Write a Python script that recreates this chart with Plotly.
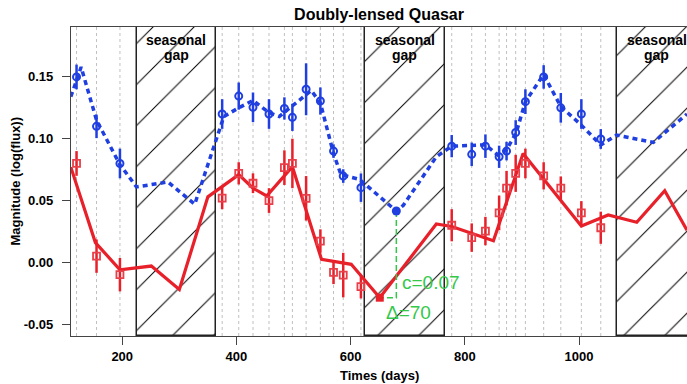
import plotly.graph_objects as go

# ---------------- data ----------------
obs_days = [120, 155, 196, 375, 404, 429, 457, 484, 498, 522, 547, 570, 587, 618,
            777, 812, 836, 860, 873, 889, 906, 938, 968, 1004, 1038]
blue_mag = [0.150, 0.110, 0.080, 0.120, 0.1345, 0.1254, 0.120, 0.1245, 0.1173, 0.140,
            0.1305, 0.090, 0.0698, 0.0604, 0.094, 0.0874, 0.094, 0.0854, 0.090, 0.105,
            0.130, 0.150, 0.125, 0.120, 0.0998]
blue_err = [0.010, 0.0095, 0.012, 0.012, 0.011, 0.012, 0.012, 0.009, 0.011, 0.021,
            0.011, 0.0055, 0.0055, 0.0115, 0.009, 0.0095, 0.0095, 0.009, 0.0075, 0.010,
            0.010, 0.0095, 0.012, 0.012, 0.008]
red_mag = [0.080, 0.005, -0.010, 0.052, 0.072, 0.064, 0.050, 0.0766, 0.080, 0.0518,
           0.0172, -0.0081, -0.0103, -0.0197, 0.030, 0.020, 0.0253, 0.040, 0.060, 0.072,
           0.080, 0.070, 0.060, 0.040, 0.028]
red_err = [0.010, 0.0135, 0.0135, 0.009, 0.009, 0.008, 0.010, 0.014, 0.020, 0.018,
           0.0095, 0.0095, 0.018, 0.0095, 0.013, 0.0115, 0.0115, 0.014, 0.014, 0.015,
           0.012, 0.011, 0.0095, 0.0095, 0.013]

blue_curve_days = [110, 128, 155, 196, 225, 280, 327, 378, 404, 429, 457, 475, 531, 547,
                   570, 583, 616, 680, 692, 750, 777, 836, 858, 873, 890, 906, 938, 968,
                   1004, 1038, 1066, 1100, 1130, 1189]
blue_curve_mag = [0.134, 0.158, 0.115, 0.079, 0.061, 0.065, 0.047, 0.118, 0.125, 0.131,
                  0.121, 0.118, 0.139, 0.129, 0.088, 0.071, 0.067, 0.0415, 0.046, 0.0854,
                  0.094, 0.095, 0.0868, 0.091, 0.105, 0.130, 0.152, 0.126, 0.111, 0.095,
                  0.103, 0.100, 0.097, 0.120]
red_curve_days = [110, 153, 196, 251, 300, 350, 404, 429, 453, 498, 549, 601, 651, 750,
                  777, 850, 902, 1004, 1051, 1101, 1150, 1189]
red_curve_mag = [0.077, 0.016, -0.006, -0.003, -0.022, 0.053, 0.071, 0.060, 0.0537,
                 0.0774, 0.0024, -0.0016, -0.0286, 0.031, 0.029, 0.0175, 0.088, 0.0294,
                 0.0383, 0.0324, 0.058, 0.026]

gap_start = [225, 625, 1066]
gap_end = [365, 765, 1206]

shift_blue_pt = [680, 0.0415]
shift_red_pt = [651, -0.0286]
c_label = "c=0.07"
delta_label = "Δ=70"

x_ticks = [200, 400, 600, 800, 1000]
y_ticks = [-0.05, 0.0, 0.05, 0.10, 0.15]
y_ticktext = ["-0.05", "0.00", "0.05", "0.10", "0.15"]

title = "Doubly-lensed Quasar"
x_title = "Times (days)"
y_title = "Magnitude (log(flux))"
gap_word1 = "seasonal"
gap_word2 = "gap"

# ---------------- styling ----------------
XR = [110.3, 1189.0]
YR = [-0.0596, 0.1904]
BLUE = "#1f3fe0"
RED = "#e8202a"
GREEN = "#33c84a"
FONT = "Liberation Sans"

fig = go.Figure()

# seasonal gaps (hatched)
centers = [(a + b) / 2 for a, b in zip(gap_start, gap_end)]
widths = [b - a for a, b in zip(gap_start, gap_end)]
fig.add_trace(go.Bar(
    x=centers, y=[YR[1] - YR[0]] * len(centers), base=YR[0], width=widths,
    marker=dict(color="white", line=dict(color="#222222", width=1.5),
                pattern=dict(shape="/", fgcolor="#000000", bgcolor="white",
                             fgopacity=1, size=29, solidity=0.035)),
    hoverinfo="skip", showlegend=False))

# observation dashed lines
for d in obs_days:
    fig.add_shape(type="line", x0=d, x1=d, y0=0, y1=1, xref="x", yref="paper",
                  line=dict(color="#c0c0c0", width=1, dash="3px,3px"), layer="below")

# model curves
fig.add_trace(go.Scatter(x=blue_curve_days, y=blue_curve_mag, mode="lines",
                         line=dict(color=BLUE, width=3.5, dash="5px,4px"),
                         showlegend=False, hoverinfo="skip"))
fig.add_trace(go.Scatter(x=red_curve_days, y=red_curve_mag, mode="lines",
                         line=dict(color=RED, width=3.2),
                         showlegend=False, hoverinfo="skip"))

# observations
fig.add_trace(go.Scatter(x=obs_days, y=blue_mag, mode="markers",
                         marker=dict(symbol="circle-open", size=7, color=BLUE,
                                     line=dict(width=2, color=BLUE)),
                         error_y=dict(type="data", array=blue_err, width=0,
                                      thickness=2.5, color=BLUE),
                         showlegend=False))
fig.add_trace(go.Scatter(x=obs_days, y=red_mag, mode="markers",
                         marker=dict(symbol="square-open", size=7, color="#e8404a",
                                     line=dict(width=1.8, color="#e8404a")),
                         error_y=dict(type="data", array=red_err, width=0,
                                      thickness=2.5, color=RED),
                         showlegend=False))

# shift annotation
fig.add_trace(go.Scatter(x=[shift_blue_pt[0], shift_blue_pt[0], shift_red_pt[0]],
                         y=[shift_blue_pt[1], shift_red_pt[1], shift_red_pt[1]],
                         mode="lines", line=dict(color=GREEN, width=1.5, dash="6px,3px"),
                         showlegend=False, hoverinfo="skip"))
fig.add_trace(go.Scatter(x=[shift_blue_pt[0]], y=[shift_blue_pt[1]], mode="markers",
                         marker=dict(symbol="circle", size=9, color=BLUE),
                         showlegend=False))
fig.add_trace(go.Scatter(x=[shift_red_pt[0]], y=[shift_red_pt[1]], mode="markers",
                         marker=dict(symbol="square", size=8, color=RED),
                         showlegend=False))

fig.add_annotation(x=686, y=-0.016, xref="x", yref="y", text=c_label, showarrow=False,
                   xanchor="left", yanchor="middle",
                   font=dict(family=FONT, size=19, color=GREEN))
fig.add_annotation(x=659, y=-0.0402, xref="x", yref="y", text=delta_label, showarrow=False,
                   xanchor="left", yanchor="middle",
                   font=dict(family=FONT, size=19, color=GREEN))

# gap labels
for c in centers:
    fig.add_annotation(x=c, y=0.958, xref="x", yref="paper", text=gap_word1,
                       showarrow=False, xanchor="center", yanchor="middle",
                       font=dict(family=FONT, size=14, color="black", weight="bold"))
    fig.add_annotation(x=c, y=0.909, xref="x", yref="paper", text=gap_word2,
                       showarrow=False, xanchor="center", yanchor="middle",
                       font=dict(family=FONT, size=14, color="black", weight="bold"))

# axis titles
fig.add_annotation(x=0.5, y=-0.1294, xref="paper", yref="paper", text=x_title,
                   showarrow=False, xanchor="center", yanchor="middle",
                   font=dict(family=FONT, size=13, color="black", weight="bold"))
fig.add_annotation(x=-0.0909, y=0.5, xref="paper", yref="paper", text=y_title,
                   textangle=-90, showarrow=False, xanchor="center", yanchor="middle",
                   font=dict(family=FONT, size=13, color="black", weight="bold"))

fig.update_layout(
    width=687, height=384, autosize=False,
    margin=dict(l=71, r=0, t=27, b=48, pad=0),
    paper_bgcolor="white", plot_bgcolor="white",
    title=dict(text=title, x=0.5, xref="paper", xanchor="center",
               y=1 - 14 / 384, yanchor="middle",
               font=dict(family=FONT, size=16, color="black", weight="bold")),
    xaxis=dict(range=XR, tickvals=x_ticks, ticks="outside", ticklen=8, tickwidth=1,
               tickcolor="#444", showgrid=False, zeroline=False, showline=True,
               linecolor="#444", linewidth=1.2, mirror=True, ticklabelstandoff=0,
               tickfont=dict(family=FONT, size=13, color="black", weight="bold")),
    yaxis=dict(range=YR, tickvals=y_ticks, ticktext=y_ticktext, ticks="outside",
               ticklen=8, tickwidth=1, tickcolor="#444", showgrid=False,
               zeroline=False, showline=True, linecolor="#444", linewidth=1.2,
               mirror=False, ticklabelstandoff=6,
               tickfont=dict(family=FONT, size=13, color="black", weight="bold")),
    bargap=0,
)

fig.write_html("out.html")
